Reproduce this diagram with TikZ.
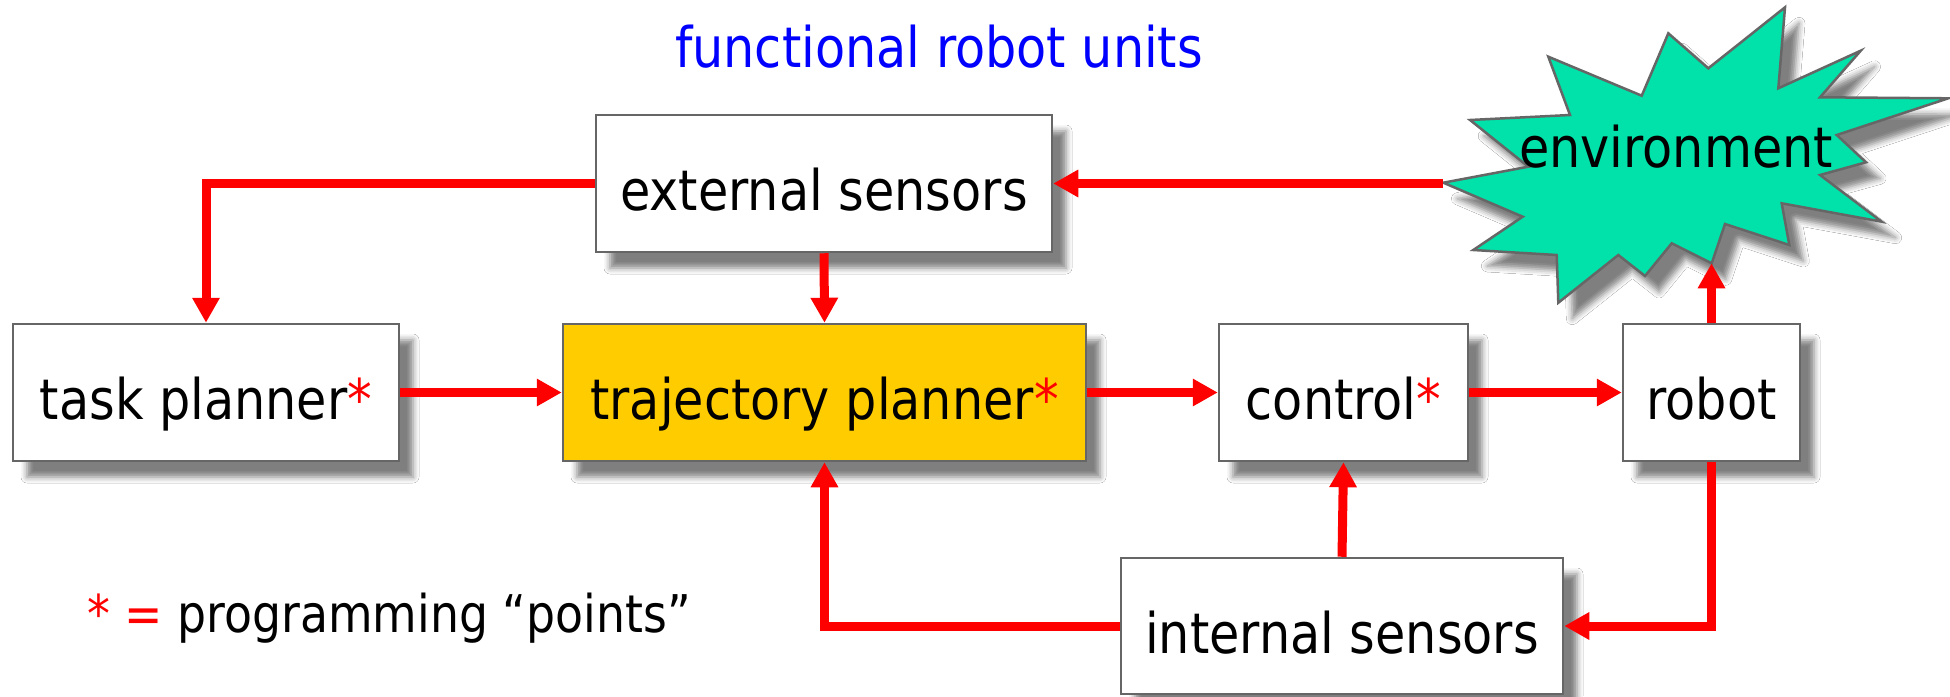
\documentclass[tikz,border=0pt]{standalone}
\usepackage{fontspec}
\setmainfont{DejaVu Sans}[FakeStretch=0.88]
\usetikzlibrary{arrows.meta,shadows.blur}

\definecolor{boxline}{HTML}{666666}
\definecolor{trajfill}{HTML}{FFCC00}
\definecolor{envfill}{HTML}{00E2AA}
\definecolor{titleblue}{HTML}{0000FF}

\tikzset{
  softshadow/.style={blur shadow={shadow xshift=14pt, shadow yshift=-16pt,
      shadow blur radius=6pt, shadow opacity=50}},
  unit/.style={draw=boxline, line width=2.5pt, fill=white, softshadow,
      minimum height=137pt, inner sep=0pt,
      font=\fontsize{56}{62}\selectfont, text height=65pt, text depth=11pt},
  flow/.style={draw=red, line width=9pt, line join=miter,
      -{Triangle[length=25pt,width=26pt]}},
}
\newcommand{\progmark}{\textcolor{red}{*}}

\begin{document}
\begin{tikzpicture}[x=1pt, y=-1pt]
  \useasboundingbox (0,0) rectangle (1950,696);
  \fill[white] (0,0) rectangle (1950,696);

  % title
  \node[anchor=base, inner sep=0pt, text=titleblue,
        font=\fontsize{56}{62}\selectfont] (title) at (939,67)
        {functional robot units};

  % environment burst
  \filldraw[draw=boxline, line width=2.5pt, fill=envfill, line join=miter,
            softshadow]
    (1443.3,182.7) -- (1528.3,166.7) -- (1470,120) -- (1570,115)
    -- (1548.3,56.7) -- (1641.7,95.7) -- (1668.3,33.3) -- (1708.3,68.3)
    -- (1785,7.3) -- (1778.3,88.3) -- (1860.7,50.7) -- (1820,97.3)
    -- (1948.3,98.3) -- (1836.7,135) -- (1866,162.3) -- (1820,175)
    -- (1881.7,221.7) -- (1781.7,203.3) -- (1789.3,245) -- (1725,224)
    -- (1711.7,263.3) -- (1671.7,243.3) -- (1645,276) -- (1618.3,255)
    -- (1558.3,302.7) -- (1556.7,255) -- (1473.3,250) -- (1522.7,216.7)
    -- cycle;
  \node[anchor=base, inner sep=0pt, font=\fontsize{56}{62}\selectfont]
    (env) at (1676,167) {environment};
  \coordinate (envL) at (1443.3,183.5);
  \coordinate (envB) at (1711.5,263.3);

  % functional units
  \node[unit, minimum width=456pt] (ext)   at (824,183.5)    {external sensors};
  \node[unit, minimum width=386pt] (task)  at (206,392.5)    {task planner\progmark};
  \node[unit, minimum width=523pt, fill=trajfill] (traj) at (824.5,392.5)
        {trajectory planner\progmark};
  \node[unit, minimum width=249pt] (ctrl)  at (1343.5,392.5) {control\progmark};
  \node[unit, minimum width=177pt] (robot) at (1711.5,392.5) {robot};
  \node[unit, minimum width=442pt, minimum height=136pt] (ints) at (1342,626)
        {internal sensors};

  % legend
  \node[anchor=base west, inner sep=0pt, font=\fontsize{52}{58}\selectfont]
    (legend) at (87,632) {\textcolor{red}{* =} programming “points”};

  % signal flow
  \draw[flow] (envL) -- (ext.east);
  \draw[flow] (ext.west) -| (task.north);
  \draw[flow] (ext.south) -- (traj.north);
  \draw[flow] (task.east) -- (traj.west);
  \draw[flow] (traj.east) -- (ctrl.west);
  \draw[flow] (ctrl.east) -- (robot.west);
  \draw[flow] (robot.north) -- (envB);
  \draw[flow] (robot.south) |- (ints.east);
  \draw[flow] (ints.north) -- (ctrl.south);
  \draw[flow] (ints.west) -| (traj.south);
\end{tikzpicture}
\end{document}
